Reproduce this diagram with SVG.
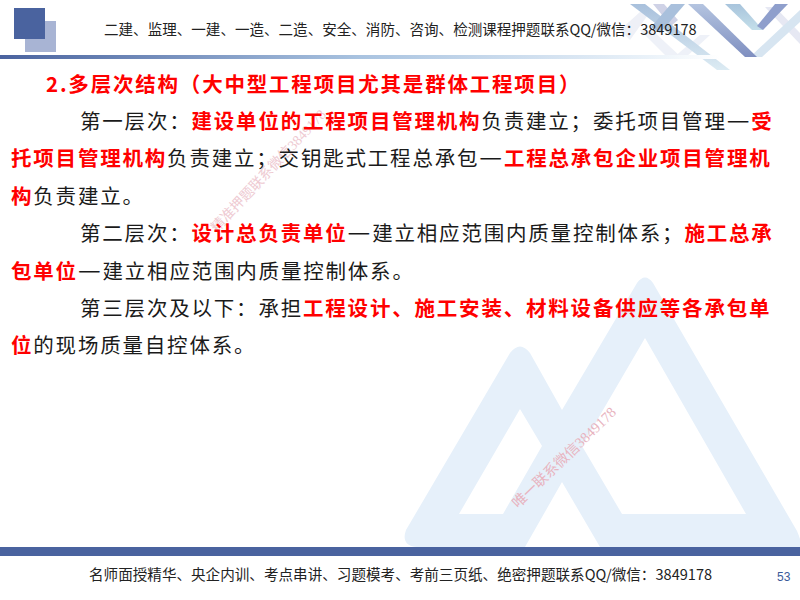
<svg xmlns="http://www.w3.org/2000/svg" width="800" height="600" viewBox="0 0 800 600">
<defs>
<linearGradient id="g" x1="0" x2="1" y1="0" y2="0"><stop offset="0" stop-color="#4a639f"/><stop offset="0.5" stop-color="#a9c3e0"/><stop offset="0.9" stop-color="#eaf2f9"/><stop offset="1" stop-color="#fff"/></linearGradient>
<linearGradient id="d1" x1="0" x2="0" y1="0" y2="1"><stop offset="0" stop-color="#b4c4e0"/><stop offset="1" stop-color="#7f8fc0"/></linearGradient>
<linearGradient id="d2" x1="0" x2="0" y1="0" y2="1"><stop offset="0" stop-color="#a8c0dc"/><stop offset="1" stop-color="#dcebf3"/></linearGradient>
<linearGradient id="d3" x1="0" x2="0" y1="0" y2="1"><stop offset="0" stop-color="#a8c4dc"/><stop offset="1" stop-color="#c4dfea"/></linearGradient>
</defs>
<style>
text{font-family:"Noto Sans CJK SC","Liberation Sans",sans-serif}
.h{font-size:14.55px;fill:#222}
.f{font-size:14.58px;fill:#222}
.b{font-size:20.5px;fill:#1a1a1a;letter-spacing:1.8px}
.r{fill:#f00;font-weight:700}
.d{font-size:25.5px}
.w{font-family:"Liberation Serif","Noto Sans CJK SC",serif;fill:#e8b4c0}
</style>
<rect width="800" height="600" fill="#fff"/>
<path id="mark" fill="#e6f0fa" fill-rule="evenodd" d="M510 353Q520 340 530 353L562 410L637 283Q645 272 653 283L797 531Q803 545 800 547H600L562 482L525 547H420Q400 547 406 530ZM520 409L459 514H503L542 446ZM645 338L582 446L622 514H746Z"/>
<g id="decor">
<path fill="#eef0f7" d="M620 30L640 12H650L630 40Z"/>
<path fill="#eef1f8" d="M640 30L652 30L682 58H668Z"/>
<path fill="#eef1f8" d="M700 35L710 35L685 58H673Z"/>
<path fill="#e6e8f3" d="M765 7L775 7L800 33V44Z"/>
<path fill="#d7e5f1" d="M800 10V22L762 57H750Z"/>
<path fill="#cfd2e6" d="M653 4H664L678 20L671 26Z"/>
<path fill="url(#d2)" d="M630 4H645L730 70H717Z"/>
<path fill="#a9c0dc" d="M685 4H671L651 27L660 33Z"/>
<path fill="url(#d1)" d="M688 4H703L757 57H745Z"/>
<path fill="url(#d3)" d="M725 4H740L763 30H752Z"/>
<path fill="#8f9fcc" d="M788 4H775L757 26L763 30Z"/>
</g>
<g id="logo"><rect x="25" y="21" width="31" height="31" fill="#a8b4d4"/><rect x="14" y="8" width="31" height="31" fill="#4a639f"/></g>
<rect x="0" y="55" width="720" height="4" fill="url(#g)"/>
<rect x="0" y="547" width="800" height="9" fill="#4a639f"/>
<text class="w" font-size="14" transform="translate(217 233) rotate(-47)" style="opacity:.7">精准押题联系微信3849178</text>
<text class="h" x="104" y="35">二建、监理、一建、一造、二造、安全、消防、咨询、检测课程押题联系QQ/微信：3849178</text>
<text class="b r" x="46" y="92">2.多层次结构（大中型工程项目尤其是群体工程项目）</text>
<text class="b" x="80" y="129">第一层次：<tspan class="r">建设单位的工程项目管理机构</tspan>负责建立；委托项目管理<tspan class="d">—</tspan><tspan class="r">受</tspan></text>
<text class="b" x="11" y="166"><tspan class="r">托项目管理机构</tspan>负责建立；交钥匙式工程总承包<tspan class="d">—</tspan><tspan class="r">工程总承包企业项目管理机</tspan></text>
<text class="b" x="11" y="204"><tspan class="r">构</tspan>负责建立。</text>
<text class="b" x="80" y="241">第二层次：<tspan class="r">设计总负责单位</tspan><tspan class="d">—</tspan>建立相应范围内质量控制体系；<tspan class="r">施工总承</tspan></text>
<text class="b" x="11" y="279"><tspan class="r">包单位</tspan><tspan class="d">—</tspan>建立相应范围内质量控制体系。</text>
<text class="b" x="80" y="316">第三层次及以下：承担<tspan class="r">工程设计、施工安装、材料设备供应等各承包单</tspan></text>
<text class="b" x="11" y="353"><tspan class="r">位</tspan>的现场质量自控体系。</text>
<text class="w" font-size="14.5" transform="translate(518 509) rotate(-44)">唯一联系微信3849178</text>
<text class="f" x="89" y="580">名师面授精华、央企内训、考点串讲、习题模考、考前三页纸、绝密押题联系QQ/微信：3849178</text>
<text x="777" y="581" style="font-family:'Liberation Sans',sans-serif;font-size:12px;fill:#3a5a9a">53</text>
</svg>
